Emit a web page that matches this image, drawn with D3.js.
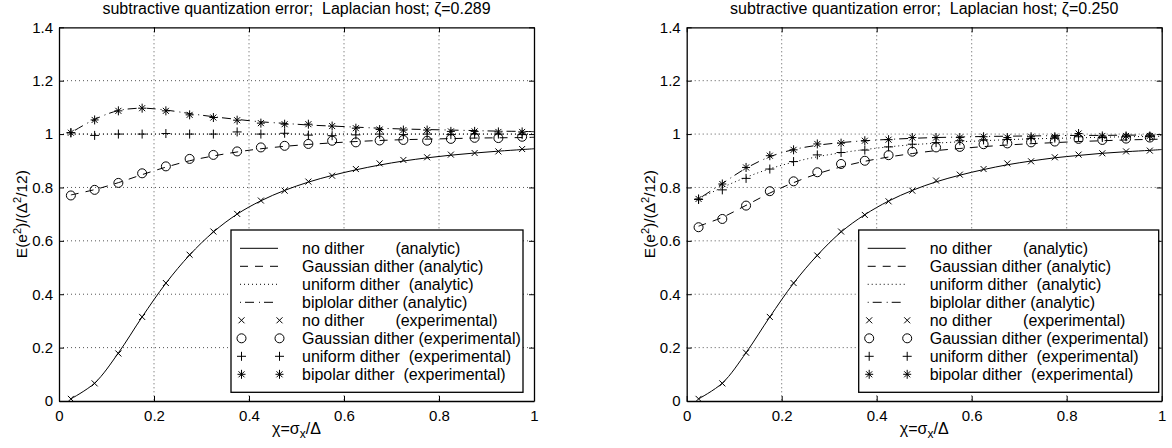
<!DOCTYPE html>
<html><head><meta charset="utf-8">
<script src="https://cdn.jsdelivr.net/npm/d3@7"></script>
<style>
html,body{margin:0;padding:0;background:#fff;}
svg{display:block;font-family:"Liberation Sans",Arial,Helvetica,sans-serif;}
text{white-space:pre;}
</style></head><body>
<svg id="chart" width="1172" height="448"></svg>
<script>
// ---------------- data ----------------
const chi = [0.025,0.075,0.125,0.175,0.225,0.275,0.325,0.375,0.425,0.475,0.525,0.575,0.625,0.675,0.725,0.775,0.825,0.875,0.925,0.975];
const chiAna = [0.025,0.075,0.125,0.175,0.225,0.275,0.325,0.375,0.425,0.475,0.525,0.575,0.625,0.675,0.725,0.775,0.825,0.875,0.925,0.975,1.0];
const xTicks = [0,0.2,0.4,0.6,0.8,1];
const yTicks = [0,0.2,0.4,0.6,0.8,1,1.2,1.4];
const titles = ["subtractive quantization error;  Laplacian host; ζ=0.289",
                "subtractive quantization error;  Laplacian host; ζ=0.250"];
const legendLabels = [
  "no dither       (analytic)",
  "Gaussian dither (analytic)",
  "uniform dither  (analytic)",
  "biplolar dither (analytic)",
  "no dither       (experimental)",
  "Gaussian dither (experimental)",
  "uniform dither  (experimental)",
  "bipolar dither  (experimental)"
];

// left panel, zeta = 0.289  (analytic curves sampled at chiAna)
const noDitherAnaL   = [0.008,0.067,0.180,0.315,0.441,0.547,0.633,0.700,0.750,0.789,0.820,0.845,0.866,0.884,0.899,0.911,0.921,0.929,0.936,0.942,0.945];
const gaussAnaL      = [0.772,0.792,0.818,0.848,0.876,0.900,0.918,0.933,0.945,0.954,0.961,0.967,0.972,0.976,0.979,0.981,0.983,0.985,0.986,0.987,0.988];
const uniformAnaL    = [1,1,1,1,1,1,1,1,1,1,1,1,1,1,1,1,1,1,1,1,1];
const bipolarAnaL    = [1.005,1.055,1.088,1.097,1.090,1.077,1.065,1.055,1.046,1.040,1.034,1.030,1.026,1.022,1.019,1.017,1.015,1.013,1.011,1.010,1.009];
const noDitherExpL   = [0.008,0.066,0.178,0.315,0.442,0.548,0.635,0.701,0.751,0.788,0.822,0.844,0.869,0.890,0.903,0.913,0.923,0.929,0.935,0.944];
const gaussExpL      = [0.770,0.791,0.817,0.853,0.879,0.907,0.922,0.935,0.950,0.956,0.963,0.975,0.969,0.976,0.978,0.975,0.982,0.986,0.985,0.990];
const uniformExpL    = [1.005,0.995,1.000,1.000,1.002,1.000,1.000,1.008,1.000,1.003,0.996,0.994,0.997,1.000,0.998,1.000,0.998,1.000,1.000,0.998];
const bipolarExpL    = [1.005,1.053,1.087,1.097,1.087,1.072,1.062,1.052,1.041,1.037,1.037,1.030,1.022,1.017,1.015,1.015,1.010,1.010,1.008,1.008];

// right panel, zeta = 0.250
const noDitherAnaR   = [0.008,0.067,0.181,0.315,0.441,0.546,0.633,0.698,0.749,0.789,0.821,0.846,0.867,0.885,0.899,0.911,0.920,0.928,0.934,0.939,0.942];
const gaussAnaR      = [0.655,0.688,0.733,0.779,0.818,0.851,0.877,0.898,0.914,0.927,0.938,0.946,0.953,0.959,0.964,0.968,0.972,0.975,0.978,0.980,0.981];
const uniformAnaR    = [0.758,0.800,0.838,0.870,0.895,0.915,0.930,0.942,0.952,0.960,0.966,0.971,0.975,0.979,0.982,0.984,0.986,0.988,0.990,0.991,0.992];
const bipolarAnaR    = [0.757,0.815,0.872,0.915,0.942,0.958,0.968,0.975,0.980,0.984,0.987,0.989,0.991,0.992,0.993,0.994,0.995,0.995,0.996,0.996,0.996];
const noDitherExpR   = [0.008,0.066,0.181,0.315,0.442,0.545,0.635,0.697,0.748,0.788,0.826,0.848,0.869,0.890,0.898,0.913,0.923,0.928,0.935,0.938];
const gaussExpR      = [0.651,0.682,0.732,0.786,0.823,0.857,0.888,0.900,0.921,0.934,0.950,0.952,0.962,0.965,0.969,0.972,0.982,0.978,0.983,0.987];
const uniformExpR    = [0.755,0.791,0.834,0.869,0.897,0.922,0.931,0.940,0.952,0.962,0.968,0.975,0.978,0.980,0.983,0.985,0.990,0.987,0.990,0.990];
const bipolarExpR    = [0.757,0.813,0.875,0.919,0.941,0.963,0.966,0.975,0.979,0.987,0.987,0.987,0.990,0.987,0.990,0.990,1.002,0.993,0.993,0.993];

// ---------------- layout ----------------
const panels = [
  {left:59,  title:titles[0], legendW:292,
   ana:[noDitherAnaL,gaussAnaL,uniformAnaL,bipolarAnaL],
   exp:[noDitherExpL,gaussExpL,uniformExpL,bipolarExpL]},
  {left:686.7, title:titles[1], legendW:300,
   ana:[noDitherAnaR,gaussAnaR,uniformAnaR,bipolarAnaR],
   exp:[noDitherExpR,gaussExpR,uniformExpR,bipolarExpR]}
];
const plotW = 475, plotTop = 27.3, plotBottom = 401;
const dashes = [null, "8,7", "1,3", "1,4,9,5"];
const markers = ["x","o","+","*"];

const svg = d3.select("#chart");

function drawMarker(g, type, cx, cy){
  const s = g.append("g").attr("transform",`translate(${cx},${cy})`)
    .attr("stroke","#000").attr("stroke-width",1).attr("fill","none");
  if(type==="x"){
    s.append("path").attr("d","M-3,-3L3,3M-3,3L3,-3");
  } else if(type==="o"){
    s.append("circle").attr("r",4.5);
  } else if(type==="+"){
    s.append("path").attr("d","M-4.5,0L4.5,0M0,-4.5L0,4.5");
  } else {
    s.append("path").attr("d","M-4,0L4,0M0,-4.5L0,4.5M-3,-3L3,3M-3,3L3,-3");
  }
}

panels.forEach(p=>{
  const x = d3.scaleLinear().domain([0,1]).range([p.left, p.left+plotW]);
  const y = d3.scaleLinear().domain([0,1.4]).range([plotBottom, plotTop]);
  const g = svg.append("g");

  // grid
  g.append("g").selectAll("line").data(xTicks.filter(d=>d>0&&d<1)).join("line")
    .attr("x1",d=>x(d)).attr("x2",d=>x(d)).attr("y1",plotTop).attr("y2",plotBottom)
    .attr("stroke","#555").attr("stroke-width",1).attr("stroke-dasharray","1,3");
  g.append("g").selectAll("line").data(yTicks.filter(d=>d>0&&d<1.4)).join("line")
    .attr("x1",p.left).attr("x2",p.left+plotW).attr("y1",d=>y(d)).attr("y2",d=>y(d))
    .attr("stroke","#555").attr("stroke-width",1).attr("stroke-dasharray","1,3");

  // analytic lines
  const line = d3.line().x((d,i)=>x(chiAna[i])).y(d=>y(d)).curve(d3.curveCatmullRom);
  p.ana.forEach((vals,k)=>{
    const path = g.append("path").datum(vals).attr("d",line)
      .attr("fill","none").attr("stroke","#000").attr("stroke-width",1);
    if(dashes[k]) path.attr("stroke-dasharray",dashes[k]);
  });
  // experimental markers
  p.exp.forEach((vals,k)=>{
    vals.forEach((v,i)=>drawMarker(g, markers[k], x(chi[i]), y(v)));
  });

  // axes
  const fmt = d=>String(+d.toFixed(1));
  const ax = g.append("g").attr("transform",`translate(0,${plotBottom})`)
    .call(d3.axisBottom(x).tickValues(xTicks).tickFormat(fmt).tickSizeInner(-5).tickSizeOuter(0).tickPadding(9.5));
  const axT = g.append("g").attr("transform",`translate(0,${plotTop})`)
    .call(d3.axisTop(x).tickValues(xTicks).tickFormat("").tickSizeInner(-5).tickSizeOuter(0));
  const ay = g.append("g").attr("transform",`translate(${p.left},0)`)
    .call(d3.axisLeft(y).tickValues(yTicks).tickFormat(fmt).tickSizeInner(-5).tickSizeOuter(0).tickPadding(6));
  const ayR = g.append("g").attr("transform",`translate(${p.left+plotW},0)`)
    .call(d3.axisRight(y).tickValues(yTicks).tickFormat("").tickSizeInner(-5).tickSizeOuter(0));
  [ax,axT,ay,ayR].forEach(a=>{
    a.select(".domain").attr("stroke","#000").attr("stroke-width",1.3);
    a.selectAll(".tick line").attr("stroke","#000");
    a.selectAll("text").attr("font-size",15).attr("fill","#000")
      .attr("font-family",'"Liberation Sans",Arial,sans-serif');
  });

  // title
  g.append("text").attr("x",p.left+plotW/2).attr("y",14).attr("text-anchor","middle")
    .attr("xml:space","preserve").attr("font-size",16).text(p.title);

  // x label
  const xl = g.append("text").attr("x",p.left+plotW/2).attr("y",434).attr("text-anchor","middle").attr("font-size",16);
  xl.append("tspan").text("χ=σ");
  xl.append("tspan").attr("font-size",12).attr("dy",4).text("x");
  xl.append("tspan").attr("dy",-4).text("/Δ");

  // y label
  const yl = g.append("text").attr("transform",`translate(${p.left-32},${(plotTop+plotBottom)/2}) rotate(-90)`)
    .attr("text-anchor","middle").attr("font-size",15.5);
  yl.append("tspan").text("E(e");
  yl.append("tspan").attr("font-size",11).attr("dy",-6).text("2");
  yl.append("tspan").attr("dy",6).text(")/(Δ");
  yl.append("tspan").attr("font-size",11).attr("dy",-6).text("2");
  yl.append("tspan").attr("dy",6).text("/12)");

  // legend
  const lx = p.left+172, ly = 230, lh = 162.3;
  const lg = g.append("g");
  lg.append("rect").attr("x",lx).attr("y",ly).attr("width",p.legendW).attr("height",lh)
    .attr("fill","#fff").attr("stroke","#000").attr("stroke-width",1.3);
  legendLabels.forEach((lab,i)=>{
    const cy = ly + 18.3 + i*18.0;
    if(i<4){
      const l = lg.append("line").attr("x1",lx+9).attr("x2",lx+47).attr("y1",cy).attr("y2",cy)
        .attr("stroke","#000").attr("stroke-width",1);
      if(dashes[i]) l.attr("stroke-dasharray",dashes[i]);
    } else {
      drawMarker(lg, markers[i-4], lx+10.5, cy);
      drawMarker(lg, markers[i-4], lx+48.5, cy);
    }
    lg.append("text").attr("x",lx+71).attr("y",cy+5.5).attr("font-size",16)
      .attr("xml:space","preserve").text(lab);
  });
});
</script>
</body></html>
